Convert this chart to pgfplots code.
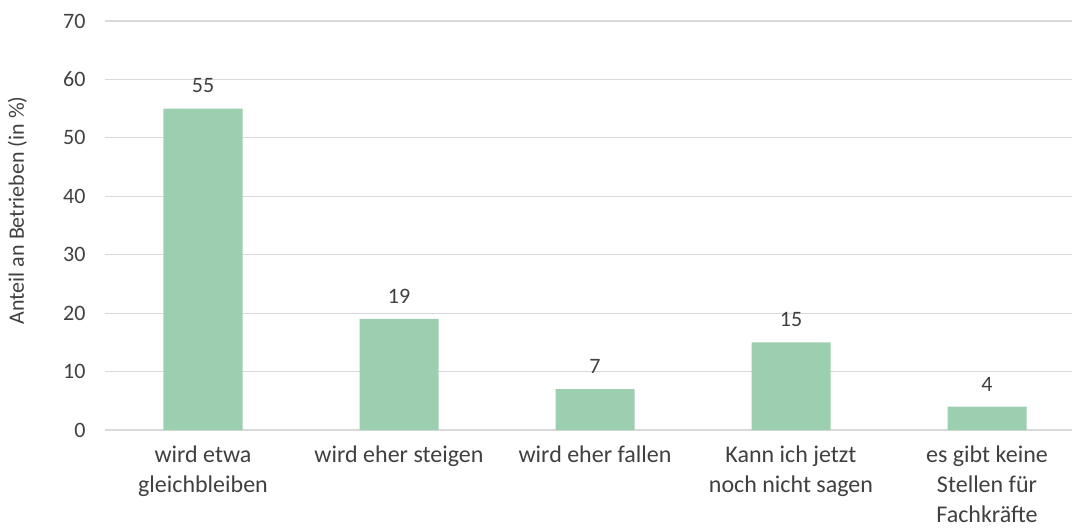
\documentclass[border=0pt]{standalone}
\usepackage{pgfplots}
\pgfplotsset{compat=1.18}
\usepackage{fontspec}
\setmainfont{Carlito}
\definecolor{bargreen}{HTML}{9BCFB0}
\definecolor{gridgray}{HTML}{D9D9D9}
\definecolor{txtgray}{HTML}{404040}
\begin{document}
\begin{tikzpicture}
\useasboundingbox (-105bp,-101bp) rectangle (967bp,430bp);
\begin{axis}[
  at={(0,0)}, anchor=south west,
  scale only axis,
  width=980bp, height=409bp,
  xmin=-0.5, xmax=4.5,
  ymin=0, ymax=70,
  ytick={0,10,...,70},
  xtick={0,1,2,3,4},
  xticklabels={wird etwa\\gleichbleiben, wird eher steigen, wird eher fallen, Kann ich jetzt\\noch nicht sagen, es gibt keine\\Stellen für\\Fachkräfte},
  xticklabel style={align=center, font=\fontsize{24bp}{30bp}\selectfont, text=txtgray, anchor=north, yshift=-12bp},
  yticklabel style={font=\fontsize{22bp}{26bp}\selectfont, text=txtgray, xshift=-16bp},
  /pgf/number format/assume math mode=true,
  axis line style={draw=none},
  major tick length=0pt,
  tick style={draw=none},
  ymajorgrids, grid style={gridgray, line width=1.2bp},
  ylabel={Anteil an Betrieben (in \%)},
  ylabel style={font=\fontsize{22bp}{26bp}\selectfont, text=txtgray, at={(-0.076,0.537)}},
  clip=false,
]
\addplot[ybar, bar width=79bp, fill=bargreen, draw=none,
  nodes near coords, nodes near coords style={font=\fontsize{22bp}{26bp}\selectfont, text=txtgray, yshift=12bp},
  point meta=y]
  coordinates {(0,55) (1,19) (2,7) (3,15) (4,4)};
\end{axis}
\end{tikzpicture}
\end{document}
